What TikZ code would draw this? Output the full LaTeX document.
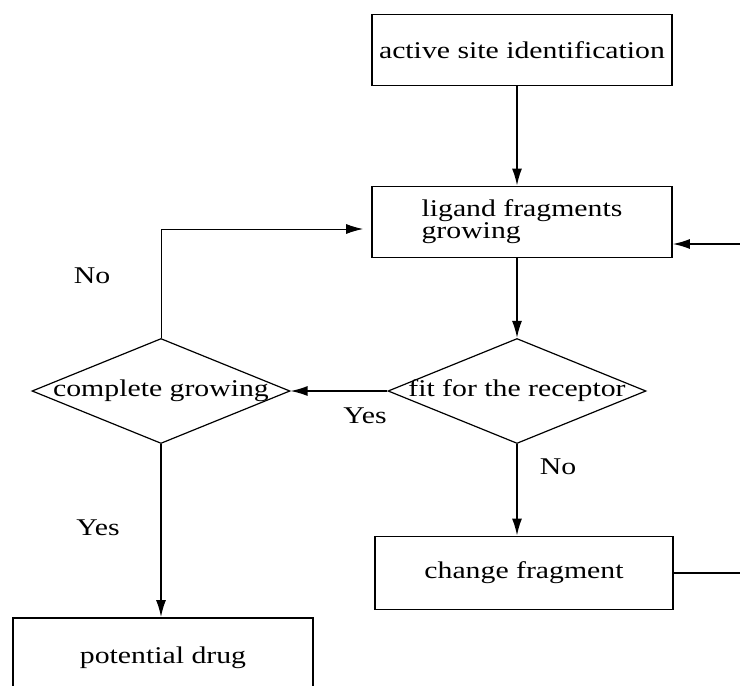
\documentclass[tikz,border=0pt]{standalone}
\usepackage{fontspec}
\setmainfont{Liberation Serif}[FakeStretch=1.24]
\usetikzlibrary{arrows.meta,shapes.geometric}

\begin{document}
\begin{tikzpicture}[x=1pt,y=-1pt,
			every node/.style={font=\fontsize{24}{19}\selectfont},
			stepbox/.style={draw,line width=1.8pt,minimum width=300pt,minimum height=71pt,inner sep=0pt},
			decision/.style={draw,diamond,line width=1.2pt,minimum width=258pt,minimum height=105pt,inner sep=0pt},
			flow/.style={line width=1.7pt,-{Latex[length=17pt,width=10pt]}},
			answer/.style={inner sep=0pt}]
		\useasboundingbox (0,0) rectangle (740,686);
		\clip (0,0) rectangle (740,686);
		\node[stepbox] (active) at (522,50) {active site identification};
		\node[stepbox,align=left] (ligand) at (522,222) {ligand fragments\\growing};
		\node[decision,label=center:{fit for the receptor}] (fit) at (517,391) {};
		\node[decision,label=center:{complete growing}] (complete) at (161,391) {};
		\node[stepbox,minimum width=298pt,minimum height=73pt] (change) at (524,573) {change fragment};
		\node[stepbox,minimum height=80pt] (drug) at (163,658) {potential drug};
		\coordinate (turn) at (161,229);
		\coordinate (back) at (748,244);
		\draw[flow] (active.south -| fit.north) -- (ligand.north -| fit.north);
		\draw[flow] (ligand.south -| fit.north) -- (fit.north);
		\draw[flow,line width=1.3pt] (fit.west) -- (complete.east);
		\draw[flow] (fit.south) -- (change.north -| fit.south);
		\draw[flow] (complete.south) -- (drug.north -| complete.south);
		\draw[flow,line width=1pt] (complete.north) -- (turn) -- ([xshift=-8pt]turn -| ligand.west);
		\draw[flow,line width=1.3pt] (change.east) -- (change.east -| back) -- (back) -- (back -| ligand.east);
		\node[answer] (no1) at (92,276) {No};
		\node[answer] (yes1) at (365,416) {Yes};
		\node[answer] (no2) at (558,467) {No};
		\node[answer] (yes2) at (98,528) {Yes};
\end{tikzpicture}
\end{document}
